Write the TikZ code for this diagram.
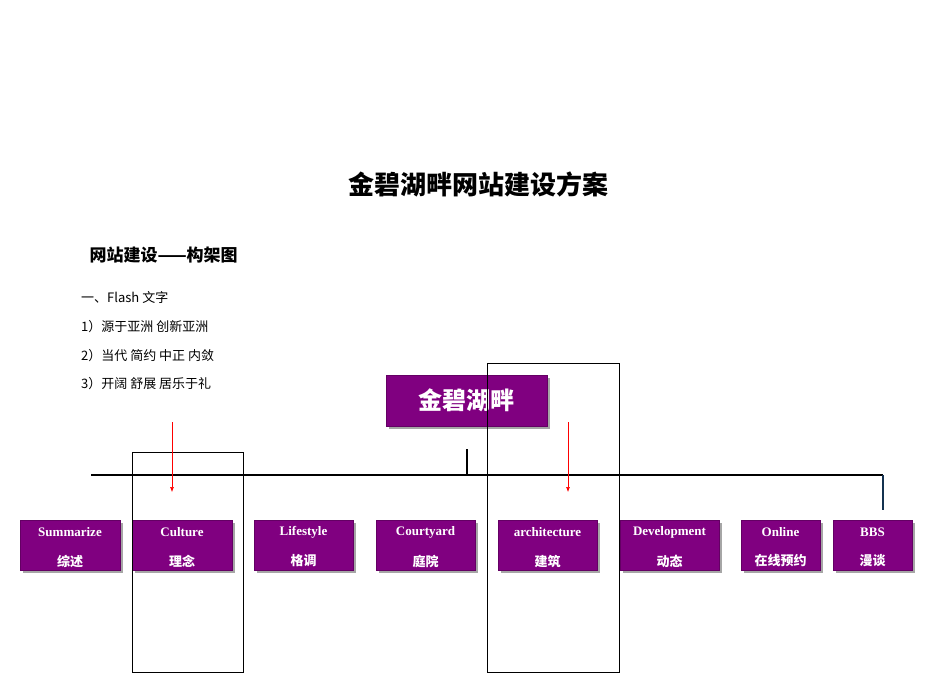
\documentclass[tikz,border=0pt]{standalone}
\usepackage{fontspec}
\setmainfont{Liberation Serif}
\newfontfamily\cjk{Noto Sans CJK SC}
\begin{document}
\begin{tikzpicture}[x=1pt,y=-1pt,
  pbox/.style={fill={rgb,255:red,128;green,0;blue,128}, draw={rgb,255:red,100;green,0;blue,100}, inner sep=0pt, text=white, font=\bfseries\fontsize{13}{15}\selectfont, align=center},
  shad/.style={fill=gray!70, draw=none},
  redarr/.style={red, line width=0.6pt, -{Latex[length=5pt,width=4pt]}},
  outl/.style={draw=black, line width=0.6pt}]
\useasboundingbox (0,0) rectangle (950,672);
\usetikzlibrary{arrows.meta}
\node[font=\cjk\bfseries\fontsize{26}{30}\selectfont] (title) at (478,184) {金碧湖畔网站建设方案};
\node[anchor=west,font=\cjk\bfseries\fontsize{17}{20}\selectfont] (sub) at (86,255) {网站建设——构架图};
\foreach \t/\yy [count=\i] in {{一、Flash 文字}/298,{1）源于亚洲 创新亚洲}/327,{2）当代 简约 中正 内敛}/356,{3）开阔 舒展 居乐于礼}/384}
  \node[anchor=west,font=\fontsize{13}{15}\selectfont,inner sep=0pt] (t\i) at (81,\yy) {\cjk\fontsize{13}{15}\selectfont\t};
% top node
\fill[shad] (389,378) rectangle (550,429);
\node[pbox, minimum width=161pt, minimum height=51pt, anchor=north west, font=\cjk\bfseries\fontsize{24}{28}\selectfont] (root) at (386,375) {金碧湖畔};
% boxes
\foreach \n/\a/\b/\en/\cn in {s/20/120/Summarize/综述, c/132/232/Culture/理念, l/254/353/Lifestyle/格调, y/376/475/Courtyard/庭院, a/498/597/architecture/建筑, d/620/719/Development/动态, o/741/820/Online/在线预约, b/833/912/BBS/漫谈}{
  \fill[shad] (\a+3,523) rectangle (\b+3,573);
  \node[pbox, minimum width=\b-\a, minimum height=50pt, anchor=north west] (\n) at (\a,520) {};
  \node[text=white,font=\bfseries\fontsize{13}{15}\selectfont] at (\a/2+\b/2,532) {\en};
  \node[text=white,font=\cjk\bfseries\fontsize{13}{15}\selectfont] at (\a/2+\b/2,561) {\cn};
}
% connectors
\coordinate (hl) at (91,475);
\coordinate (hr) at (883,475);
\coordinate (rootbot) at (467,449);
\coordinate (hm) at (467,475);
\coordinate (rb) at (883,510);
\draw[line width=2.5pt] (hl) -- (hr);
\draw[line width=2.5pt] (rootbot) -- (hm);
\draw[line width=2pt, draw={rgb,255:red,20;green,50;blue,80}] (hr) -- (rb);
% outline rectangles
\draw[outl] (132,452) rectangle (243,672);
\draw[outl] (487,363) rectangle (619,672);
% red arrows
\coordinate (r1s) at (172,422); \coordinate (r1e) at (172,492);
\coordinate (r2s) at (568,422); \coordinate (r2e) at (568,492);
\draw[redarr] (r1s) -- (r1e);
\draw[redarr] (r2s) -- (r2e);
\end{tikzpicture}
\end{document}
